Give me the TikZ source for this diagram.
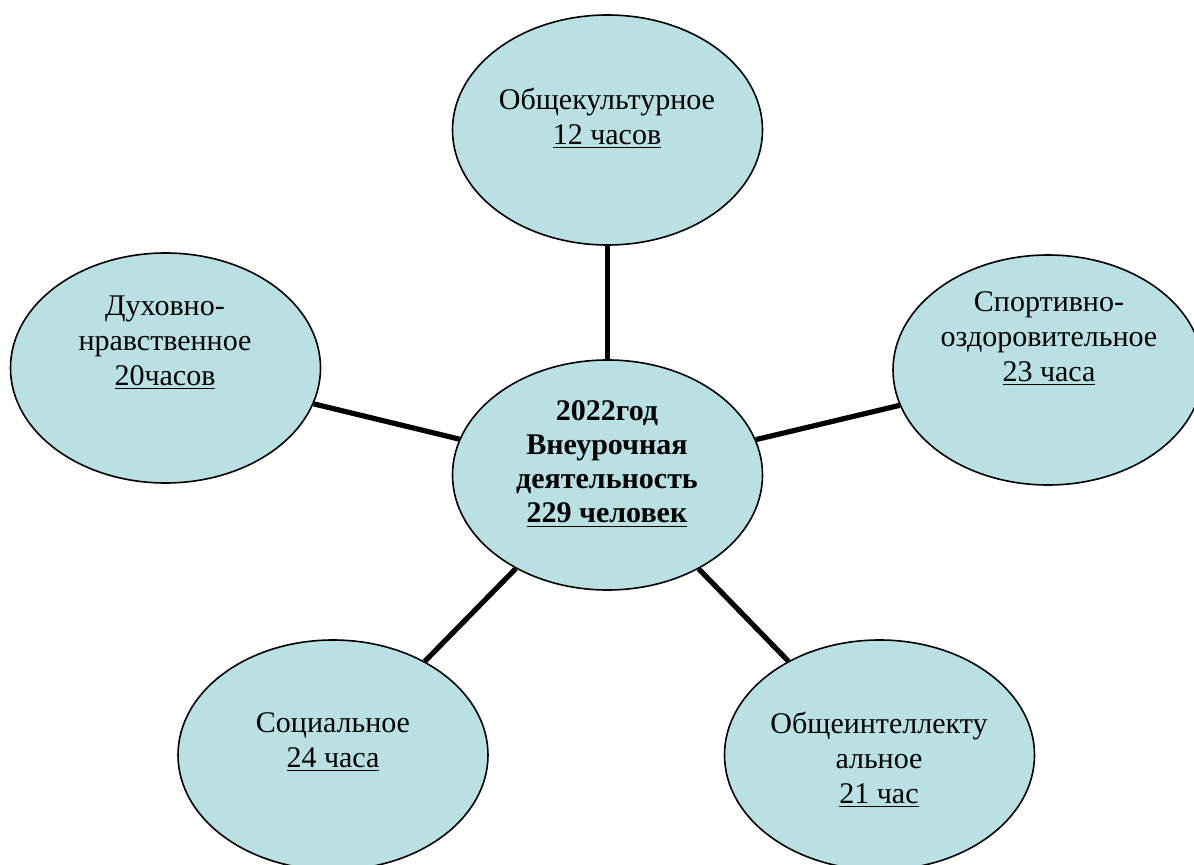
\documentclass[tikz,border=0pt]{standalone}
\usepackage{fontspec}
\setmainfont{Liberation Serif}
\usetikzlibrary{shapes.geometric}
\definecolor{bubblefill}{RGB}{185,224,227}
\begin{document}
\begin{tikzpicture}[x=0.5pt,y=-0.5pt,
  bubble/.style={ellipse,draw=black,line width=0.8pt,fill=bubblefill,inner sep=0pt,
    minimum width=155pt,minimum height=115pt},
  label/.style={align=center,inner sep=0pt,font=\fontsize{15}{17.5}\selectfont},
  boldlabel/.style={label,font=\fontsize{15}{17}\selectfont\bfseries},
  link/.style={line width=2.6pt,draw=black}]
\useasboundingbox (0,0) rectangle (1194,865);
\clip (0,0) rectangle (1194,865);
\node[bubble] (c) at (607.5,475) {};
\node[bubble] (t) at (607.5,130) {};
\node[bubble] (r) at (1048,370) {};
\node[bubble] (br) at (879.5,755) {};
\node[bubble] (bl) at (333,755) {};
\node[bubble] (l) at (165.5,368) {};
\draw[link] (c) -- (t);
\draw[link] (c) -- (r);
\draw[link] (c) -- (br);
\draw[link] (c) -- (bl);
\draw[link] (c) -- (l);
\node[boldlabel] (ct) at (607,464) {2022год\\Внеурочная\\деятельность\\\underline{229 человек}};
\node[label] (tt) at (607,118) {Общекультурное\\\underline{12 часов}};
\node[label] (rt) at (1049,339) {Спортивно-\\оздоровительное\\\underline{23 часа}};
\node[label] (brt) at (879,759.5) {Общеинтеллекту\\альное\\\underline{21 час}};
\node[label] (blt) at (333,742) {Социальное\\\underline{24 часа}};
\node[label] (lt) at (165,343) {Духовно-\\нравственное\\\underline{20часов}};
\end{tikzpicture}
\end{document}
